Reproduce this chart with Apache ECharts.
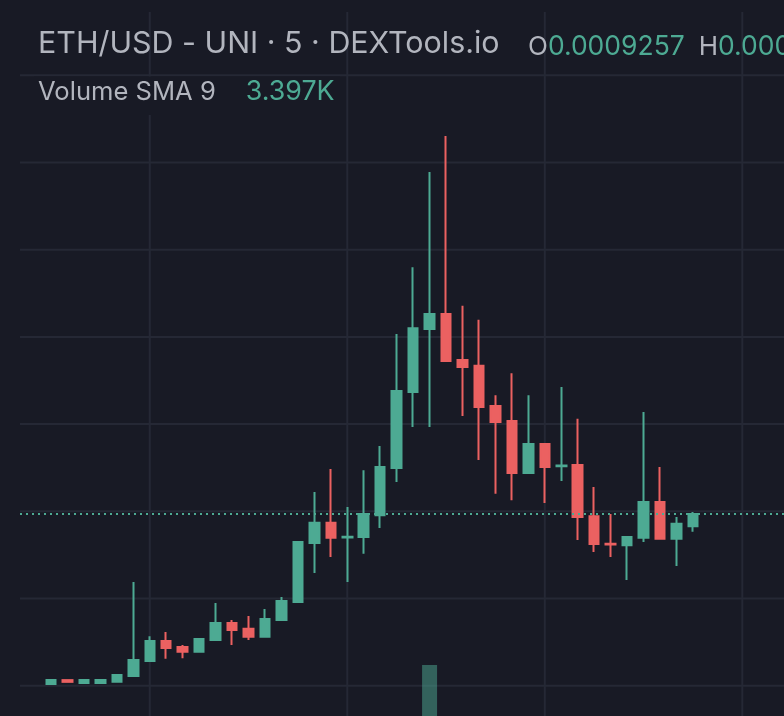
<!DOCTYPE html>
<html>
<head>
<meta charset="utf-8">
<script src="https://cdn.jsdelivr.net/npm/echarts@6/dist/echarts.min.js"></script>
<style>
html,body{margin:0;padding:0;background:#181a25;}
#chart{width:784px;height:716px;}
</style>
</head>
<body>
<div id="chart"></div>
<script>
// ---- data (5-minute bars) ----
const opens = [0.0008805,0.0008816,0.0008808,0.0008808,0.0008811,0.0008828,0.0008871,0.0008928,0.0008911,0.0008897,
  0.0008931,0.0008980,0.0008963,0.0008940,0.0008988,0.0009040,0.0009209,0.0009267,0.0009225,0.0009226,
  0.0009289,0.0009424,0.0009642,0.0009823,0.0009866,0.0009734,0.0009717,0.0009602,0.0009559,0.0009410,
  0.0009493,0.0009429,0.0009433,0.0009286,0.0009207,0.0009203,0.0009224,0.0009327,0.0009221,0.0009257];
const highs = [0.0008816,0.0008816,0.0008816,0.0008816,0.0008831,0.0009097,0.0008942,0.0008954,0.0008917,0.0008934,
  0.0009037,0.0008988,0.0009000,0.0009020,0.0009054,0.0009212,0.0009355,0.0009421,0.0009312,0.0009418,
  0.0009487,0.0009808,0.0010000,0.0010273,0.0010376,0.0009889,0.0009849,0.0009633,0.0009696,0.0009633,
  0.0009496,0.0009656,0.0009565,0.0009370,0.0009292,0.0009226,0.0009585,0.0009427,0.0009284,0.0009298];
const lows = [0.0008805,0.0008811,0.0008808,0.0008808,0.0008811,0.0008828,0.0008871,0.0008877,0.0008879,0.0008897,
  0.0008931,0.0008917,0.0008931,0.0008940,0.0008988,0.0009040,0.0009123,0.0009169,0.0009097,0.0009178,
  0.0009252,0.0009384,0.0009542,0.0009542,0.0009731,0.0009573,0.0009447,0.0009350,0.0009332,0.0009410,
  0.0009324,0.0009387,0.0009218,0.0009183,0.0009169,0.0009103,0.0009212,0.0009221,0.0009143,0.0009241];
const closes = [0.0008816,0.0008811,0.0008816,0.0008816,0.0008831,0.0008874,0.0008928,0.0008908,0.0008897,0.0008934,
  0.0008980,0.0008960,0.0008940,0.0008991,0.0009043,0.0009212,0.0009267,0.0009224,0.0009227,0.0009292,
  0.0009427,0.0009645,0.0009825,0.0009866,0.0009731,0.0009714,0.0009599,0.0009556,0.0009410,0.0009493,
  0.0009427,0.0009431,0.0009284,0.0009206,0.0009205,0.0009226,0.0009327,0.0009221,0.0009264,0.0009292];
const volumes = [900,600,500,500,1200,6500,4200,2500,1800,2200,
  3600,2100,2400,3300,4100,9800,7600,6900,5200,6100,
  8400,14500,17800,26800,16500,9200,8700,6300,7900,5600,
  3800,5200,4100,3900,2100,2600,4800,3300,2400,2173];
const hourMarks = [6, 18, 30, 42];          // bar indexes that fall on the hour
const priceLevels = [0.00088, 0.000905, 0.00093, 0.000955, 0.00098, 0.001005, 0.00103, 0.001055];
const smaLength = 9;

// ---- styling / layout ----
const BG = '#181a25', GRID = '#252835', UP = '#4daa93', DOWN = '#eb6161', TXT = '#b2b5be';
const gridLeft = 20, firstBarPx = 51, slotPx = 16.46, chartW = 784;
const xMin = -(firstBarPx - gridLeft) / slotPx;
const xMax = xMin + (chartW - gridLeft) / slotPx;
const yMin = 0.00087131, yMax = 0.00107315;

const n = opens.length;
const last = n - 1;
const candleData = opens.map((o, i) => [i, o, closes[i], lows[i], highs[i]]);
const volData = volumes.map((v, i) => ({
  value: [i, v],
  itemStyle: { color: closes[i] >= opens[i] ? 'rgba(77,170,147,0.5)' : 'rgba(235,97,97,0.5)' }
}));
const fmt = v => v.toFixed(7);
const sma = volumes.slice(-smaLength).reduce((a, b) => a + b, 0) / smaLength;
const lastColor = closes[last] >= opens[last] ? UP : DOWN;

const chart = echarts.init(document.getElementById('chart'), null, { renderer: 'canvas' });
const hiddenAxis = { axisLine: { show: false }, axisTick: { show: false }, axisLabel: { show: false }, splitLine: { show: false } };

const gridLineSeries = (pts, name) => ({
  type: 'line', name, xAxisIndex: 0, yAxisIndex: 0, data: pts, symbol: 'none', silent: true, z: 0,
  lineStyle: { color: GRID, width: 2 }, clip: true
});

const series = [];
hourMarks.forEach(x => series.push(gridLineSeries([[x, yMin], [x, yMax]], 'hour ' + x)));
priceLevels.forEach(y => series.push(gridLineSeries([[xMin, y], [xMax, y]], 'level ' + y)));
series.push({
  type: 'bar', name: 'Volume', xAxisIndex: 1, yAxisIndex: 1, barWidth: 15,
  data: volData, z: 1, silent: true, clip: true
});
series.push({
  type: 'candlestick', name: 'ETH/USD - UNI', xAxisIndex: 0, yAxisIndex: 0,
  data: candleData, encode: { x: 0, y: [1, 2, 3, 4] },
  barWidth: 10, z: 3,
  itemStyle: { color: UP, color0: DOWN, borderColor: UP, borderColor0: DOWN, borderWidth: 2 }
});
series.push({
  type: 'line', name: 'Last price', xAxisIndex: 0, yAxisIndex: 0,
  data: [[xMin, closes[last]], [xMax, closes[last]]], symbol: 'none', silent: true, z: 6,
  lineStyle: { color: lastColor, width: 2, type: [2, 4] }
});

chart.setOption({
  backgroundColor: BG,
  animation: false,
  grid: [
    { left: gridLeft, right: 0, top: 12, bottom: 0 },
    { left: gridLeft, right: 0, top: 416, bottom: 0 }
  ],
  xAxis: [
    Object.assign({ type: 'value', gridIndex: 0, min: xMin, max: xMax }, hiddenAxis),
    Object.assign({ type: 'value', gridIndex: 1, min: xMin, max: xMax }, hiddenAxis)
  ],
  yAxis: [
    Object.assign({ type: 'value', gridIndex: 0, min: yMin, max: yMax }, hiddenAxis),
    // overlay volume pane: its zero line lies below the visible area
    Object.assign({ type: 'value', gridIndex: 1, min: 20000, max: 60000 }, hiddenAxis)
  ],
  series,
  graphic: [
    { type: 'rect', z: 100, silent: true, shape: { x: 34, y: 76.5, width: 306, height: 38.5 }, style: { fill: BG } },
    { type: 'text', z: 101, x: 38, y: 44, style: {
        text: 'ETH/USD - UNI · 5 · DEXTools.io', font: '400 30.4px Inter', fill: TXT, verticalAlign: 'middle' } },
    { type: 'text', z: 101, x: 528, y: 47, style: {
        text: '{l|O}{v|' + fmt(opens[last]) + '}{g| }{l|H}{v|' + fmt(highs[last]) + '}{g| }{l|L}{v|' + fmt(lows[last]) + '}{g| }{l|C}{v|' + fmt(closes[last]) + '}',
        verticalAlign: 'middle',
        rich: {
          l: { font: '400 26px Inter', fill: TXT },
          v: { font: '400 26.5px Inter', fill: lastColor },
          g: { font: '400 26px Inter', width: 14 }
        } } },
    { type: 'text', z: 101, x: 38, y: 92, style: {
        text: '{l|Volume SMA ' + smaLength + '}{g| }{v|' + (sma / 1000).toFixed(3) + 'K}',
        verticalAlign: 'middle',
        rich: {
          l: { font: '400 25.6px Inter', fill: TXT },
          v: { font: '400 26.8px Inter', fill: UP },
          g: { font: '400 25px Inter', width: 30 }
        } } }
  ]
});
</script>
</body>
</html>
